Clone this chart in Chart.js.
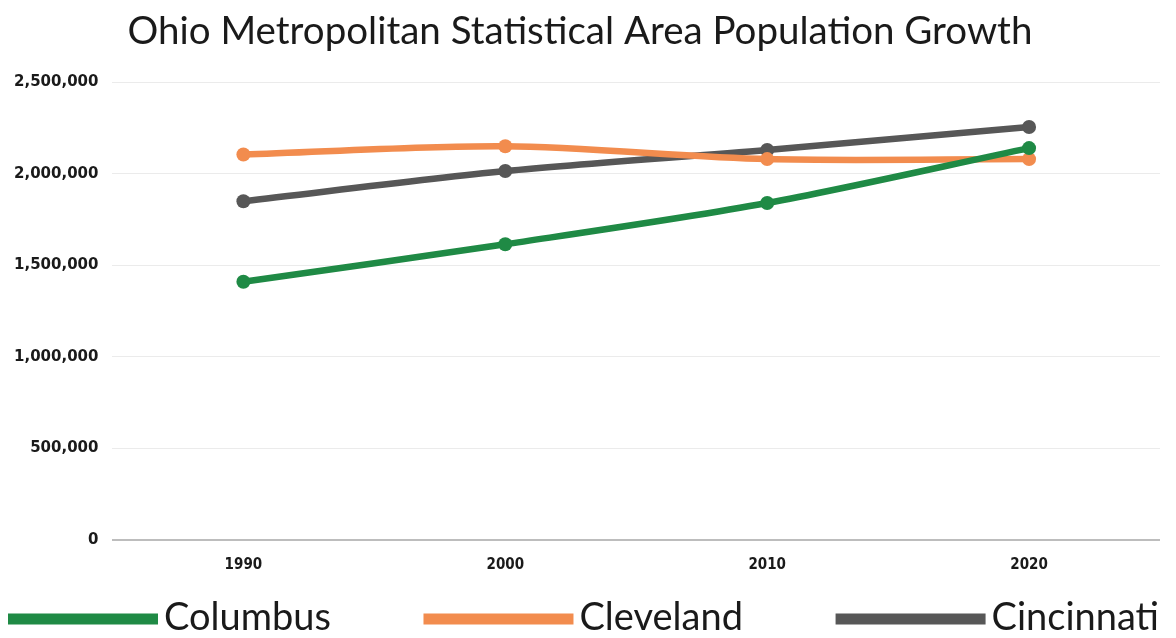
<!DOCTYPE html>
<html>
<head>
<meta charset="utf-8">
<script src="https://cdn.jsdelivr.net/npm/chart.js@4"></script>
<style>
  html, body { margin: 0; padding: 0; background: #fff; }
  #wrap { width: 1176px; height: 638px; }
</style>
</head>
<body>
<div id="wrap"><canvas id="ohio-msa"></canvas></div>
<script>
var years = ['1990', '2000', '2010', '2020'];
var columbus = [1410000, 1615000, 1840000, 2140000];
var cleveland = [2105000, 2150000, 2080000, 2080000];
var cincinnati = [1850000, 2015000, 2130000, 2255000];
var yTicks = [0, 500000, 1000000, 1500000, 2000000, 2500000];

// legend spread across the full width, like the original
var wideLegend = {
    id: 'wideLegend',
    afterDraw: function (chart) {
        var c = chart.ctx;
        var sets = chart.data.datasets;
        var boxW = 150, boxH = 11, gap = 6;
        var left = 8, right = chart.width - 17;
        var y = chart.height - 19;
        c.save();
        c.font = '38px Lato';
        c.textBaseline = 'middle';
        var widths = sets.map(function (ds) {
            return boxW + gap + c.measureText(ds.label).width;
        });
        var total = widths.reduce(function (a, b) { return a + b; }, 0);
        var space = (right - left - total) / (sets.length - 1);
        var x = left;
        sets.forEach(function (ds, i) {
            c.fillStyle = ds.borderColor;
            c.fillRect(x, y - boxH / 2, boxW, boxH);
            c.fillStyle = '#1a1a1a';
            c.fillText(ds.label, x + boxW + gap, y - 1);
            x += widths[i] + space;
        });
        c.restore();
    }
};

var ctx = document.getElementById('ohio-msa');

var lineChart = new Chart(ctx, {
    type: 'line',
    data: {
        labels: years,
        datasets: [{
            label: 'Columbus',
            data: columbus,
            borderColor: '#1f8a45',
            backgroundColor: '#1f8a45'
        }, {
            label: 'Cleveland',
            data: cleveland,
            borderColor: '#f28c4e',
            backgroundColor: '#f28c4e'
        }, {
            label: 'Cincinnati',
            data: cincinnati,
            borderColor: '#575757',
            backgroundColor: '#575757'
        }]
    },
    plugins: [wideLegend],
    options: {
        responsive: true,
        maintainAspectRatio: false,
        animation: false,
        layout: { padding: { left: 0, right: 16, top: 0, bottom: 56 } },
        elements: {
            line: { borderWidth: 6.5, tension: 0.3 },
            point: { radius: 7, borderWidth: 0 }
        },
        plugins: {
            title: {
                display: true,
                text: 'Ohio Metropolitan Statistical Area Population Growth',
                color: '#1a1a1a',
                font: { family: 'Lato', size: 38.5, weight: 'normal' },
                padding: { top: 8, bottom: 28 }
            },
            legend: { display: false },
            tooltip: { enabled: false }
        },
        scales: {
            x: {
                offset: true,
                grid: { display: false },
                border: { display: false },
                ticks: {
                    color: '#1a1a1a',
                    padding: 8,
                    font: { family: 'DejaVu Sans Condensed', size: 15, weight: 'bold' }
                }
            },
            y: {
                min: 0,
                max: 2500000,
                afterBuildTicks: function (axis) {
                    axis.ticks = yTicks.map(function (v) { return { value: v }; });
                },
                grid: {
                    color: function (c) { return c.tick.value === 0 ? '#bdbdbd' : '#ebebeb'; },
                    lineWidth: function (c) { return c.tick.value === 0 ? 2 : 1; },
                    drawTicks: false
                },
                border: { display: false },
                ticks: {
                    color: '#1a1a1a',
                    padding: 14,
                    font: { family: 'DejaVu Sans', size: 15, weight: 'bold' },
                    callback: function (value) {
                        return value.toLocaleString('en-US');
                    }
                }
            }
        }
    }
});
</script>
</body>
</html>
